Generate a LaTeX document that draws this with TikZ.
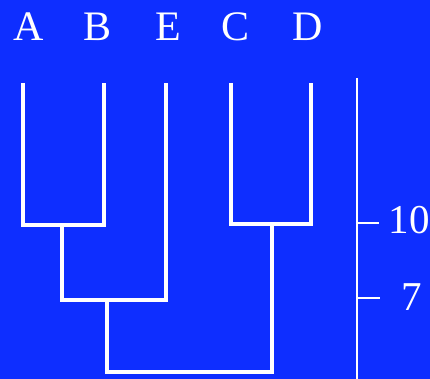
\documentclass[tikz,border=0pt]{standalone}
\usepackage{fontspec}
\setmainfont{Liberation Serif}
\usetikzlibrary{positioning}
\definecolor{bgblue}{RGB}{14,46,255}

\begin{document}
\begin{tikzpicture}[
    x=1pt,
    y=-1pt,
    leaf/.style={
        text=white,
        anchor=base,
        inner sep=0pt,
        font=\fontsize{42}{42}\selectfont
    },
    ticklabel/.style={
        text=white,
        anchor=base,
        inner sep=0pt,
        font=\fontsize{41}{41}\selectfont
    },
    branch/.style={
        draw=white,
        line width=4.7pt,
        line join=miter
    },
    axisline/.style={
        draw=white,
        line width=1.5pt
    }
]

% ============================================================
% BACKGROUND
% ============================================================

\fill[bgblue] (0,0) rectangle (430,379);
\useasboundingbox (0,0) rectangle (430,379);

% ============================================================
% LEAF LABELS
% ============================================================

\node[leaf] (lA) at (29,41)  {A};
\node[leaf] (lB) at (98,41)  {B};
\node[leaf] (lE) at (168,41) {E};
\node[leaf] (lC) at (236,41) {C};
\node[leaf] (lD) at (308,41) {D};

% leaf tips
\coordinate (a) at (23,83);
\coordinate (b) at (104,83);
\coordinate (e) at (166,83);
\coordinate (c) at (231,83);
\coordinate (d) at (311,83);

% joins
\coordinate (ab)   at (62,225);
\coordinate (cd)   at (272,224);
\coordinate (abe)  at (107,300);
\coordinate (root) at (190,372);

% ============================================================
% TREE
% ============================================================

\draw[branch] (a) |- (ab) -| (b);
\draw[branch] (c) |- (cd) -| (d);
\draw[branch] (ab) |- (abe) -| (e);
\draw[branch] (abe) |- (root) -| (cd);

% ============================================================
% SCALE
% ============================================================

\coordinate (top) at (357,78);
\coordinate (bot) at (357,379);
\coordinate (t10) at (357,223);
\coordinate (t7)  at (357,298);
\coordinate (e10) at (379,223);
\coordinate (e7)  at (380,298);

\draw[axisline] (top) -- (bot);

\node[ticklabel] (n10) at (409,233) {10};
\node[ticklabel] (n7)  at (412,310) {7};

\draw[axisline] (t10) -- (e10);
\draw[axisline] (t7)  -- (e7);

\end{tikzpicture}
\end{document}
